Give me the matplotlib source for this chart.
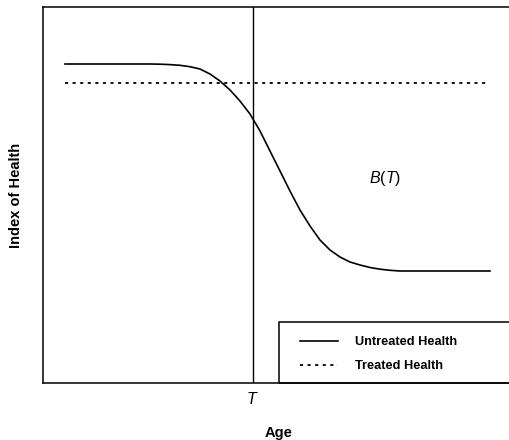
import matplotlib
matplotlib.use("Agg")
import matplotlib.pyplot as plt
from matplotlib.patches import Rectangle

plt.rcParams['font.family'] = ['Liberation Sans', 'DejaVu Sans']
plt.rcParams['mathtext.fontset'] = 'custom'
plt.rcParams['mathtext.it'] = 'Liberation Sans:italic'
plt.rcParams['mathtext.rm'] = 'Liberation Sans'

# Untreated health (age, index of health)
age_untreated = [4.72, 22.96, 25.11, 27.25, 29.40, 31.55, 33.69, 35.84, 37.98,
                 40.13, 42.27, 44.42, 46.57, 48.71, 50.86, 53.00, 55.15, 57.30,
                 59.44, 61.59, 63.73, 65.88, 68.03, 70.17, 72.32, 74.46, 76.61,
                 95.92]
health_untreated = [84.84, 84.84, 84.79, 84.68, 84.49, 84.12, 83.51, 82.18, 80.32,
                    77.93, 75.00, 71.54, 67.02, 61.70, 56.38, 51.06, 46.01, 41.76,
                    38.03, 35.37, 33.51, 32.18, 31.38, 30.72, 30.27, 29.97, 29.79,
                    29.79]

# Treated health stays flat
age_treated = [4.7, 95.3]
health_treated = [79.8, 79.8]

T_age = 45.0
legend_labels = ['Untreated Health', 'Treated Health']

fig = plt.figure(figsize=(5.09, 4.40), dpi=100)
ax = fig.add_axes([43 / 509, 57 / 440, 466 / 509, 376 / 440])

ax.plot(age_untreated, health_untreated, color='black', lw=1.2,
        solid_joinstyle='round', label=legend_labels[0])
ax.plot(age_treated, health_treated, color='black', lw=1.3,
        dashes=(1.7, 2.5), label=legend_labels[1])
ax.axvline(T_age, color='black', lw=1.0)

ax.set_xlim(0, 100)
ax.set_ylim(0, 100)
ax.spines['right'].set_visible(False)
for side in ['left', 'bottom', 'top']:
    ax.spines[side].set_linewidth(1.1)

ax.set_xticks([T_age])
ax.set_xticklabels(['$T$'], fontsize=11.5)
ax.tick_params(axis='x', length=0, pad=6)
ax.set_yticks([])

ax.set_ylabel('Index of Health', fontsize=10.5, fontweight='bold')
ax.yaxis.set_label_coords(-0.042, 0.5)
ax.set_xlabel('Age', fontsize=10.5, fontweight='bold')
ax.xaxis.set_label_coords(0.505, -0.115)

ax.text(73.4, 54.5, '$B(T)$', fontsize=11.5, ha='center', va='center')

# legend box, open to the right like the original
box = Rectangle((0.506, 0.0), 0.6, 0.162, transform=ax.transAxes,
                fill=False, edgecolor='black', lw=1.1, clip_on=False)
ax.add_patch(box)
leg = ax.legend(loc='upper left', bbox_to_anchor=(0.537, 0.142), frameon=False,
                fontsize=9.2, handlelength=3.0, handletextpad=1.3,
                labelspacing=0.95, borderpad=0.0)
for txt in leg.get_texts():
    txt.set_fontweight('bold')

fig.savefig('out.png', dpi=100)
